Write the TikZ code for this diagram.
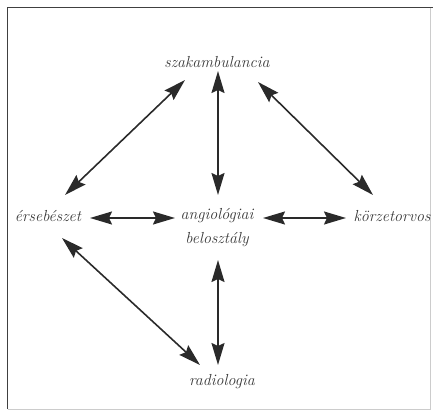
\documentclass[tikz,border=0pt]{standalone}
\usepackage{fontspec}
\usetikzlibrary{arrows.meta,calc}
\definecolor{txt}{HTML}{3A3A3A}
\definecolor{arr}{HTML}{2A2A2A}
\tikzset{
  lbl/.style={text=txt,font=\fontsize{16}{24}\selectfont\itshape,inner sep=0pt,align=center},
  hd/.tip={Stealth[length=22pt,width=13pt,inset=3pt]},
  dbl/.style={draw=arr,line width=1.6pt,hd-hd},
  frm/.style={draw=black!75,line width=1.2pt}
}
\begin{document}
\begin{tikzpicture}[x=1pt,y=1pt]
\useasboundingbox (0,0) rectangle (433,-412);
\draw[black!20,line width=0.8pt] (430.5,-7.5) -- (430.5,-409) -- (7.5,-409);
\draw[frm] (7.5,-409) -- (7.5,-7.5) -- (433,-7.5);
\node[lbl] (szak) at (217,-62) {szakambulancia};
\node[lbl] (ers) at (48,-216) {érsebészet};
\node[lbl] (ang) at (217,-228) {angiológiai\\belosztály};
\node[lbl] (korz) at (392,-216) {körzetorvos};
\node[lbl] (radio) at (222,-382) {radiologia};
\draw[dbl] ($(szak.center)+(-32,-18)$) -- ($(ers.center)+(17,21)$);
\draw[dbl] ($(szak.center)+(1,-9)$) -- ($(ang.center)+(1,33)$);
\draw[dbl] ($(szak.center)+(41,-20)$) -- ($(korz.center)+(-19,21)$);
\draw[dbl] ($(ers.center)+(42,-2)$) -- ($(ang.center)+(-42,10)$);
\draw[dbl] ($(ang.center)+(46,10)$) -- ($(korz.center)+(-46,-2)$);
\draw[dbl] ($(ers.center)+(14,-22)$) -- ($(radio.center)+(-22,17)$);
\draw[dbl] ($(ang.center)+(1,-32)$) -- ($(radio.center)+(-4,17)$);
\end{tikzpicture}
\end{document}
